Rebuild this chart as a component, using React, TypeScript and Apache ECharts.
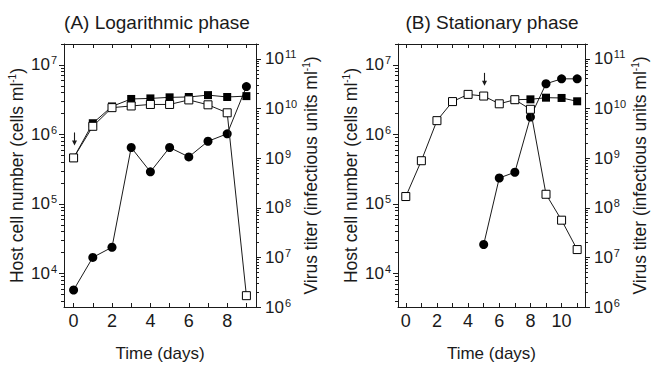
import React, { useEffect, useRef } from 'react';
import * as echarts from 'echarts';

const FONT = '"Liberation Sans", Arial, Helvetica, sans-serif';
const INK = '#1a1a1a';

// Panel A: Logarithmic phase
const daysA = ['0', '1', '2', '3', '4', '5', '6', '7', '8', '9'];
const hostOpenA = [4.6e5, 1.31e6, 2.43e6, 2.57e6, 2.7e6, 2.7e6, 3.14e6, 2.67e6, 2.05e6, 4.8e3];
const hostFilledA = [4.6e5, 1.45e6, 2.53e6, 3.24e6, 3.3e6, 3.42e6, 3.46e6, 3.68e6, 3.46e6, 3.56e6];
const virusA = [2.2e6, 1.0e7, 1.6e7, 1.64e9, 5.3e8, 1.64e9, 1.06e9, 2.19e9, 3.1e9, 2.77e10];
const arrowA = [0, 6.95e5];

// Panel B: Stationary phase
const daysB = ['0', '1', '2', '3', '4', '5', '6', '7', '8', '9', '10', '11'];
const hostOpenB = [1.28e5, 4.19e5, 1.58e6, 2.97e6, 3.77e6, 3.57e6, 2.76e6, 3.16e6, 2.3e6, 1.38e5, 5.85e4, 2.21e4];
const hostFilledB: (number | string)[] = ['-', '-', '-', '-', '-', '-', '-', 3.16e6, 3.2e6, 3.38e6, 3.35e6, 3.0e6];
const virusB: (number | string)[] = ['-', '-', '-', '-', '-', 1.82e7, 3.98e8, 5.2e8, 6.76e9, 3.16e10, 3.97e10, 3.97e10];
const arrowB = [5, 5.0e6];

// Axis ranges and log tick decades
const hostRange = [3.3e3, 2e7];
const virusRange = [1e6, 2e11];
const hostDecades = [1e3, 1e4, 1e5, 1e6, 1e7];
const virusDecades = [1e6, 1e7, 1e8, 1e9, 1e10, 1e11];
const minorSteps = [2, 3, 4, 5, 6, 7, 8, 9];

function inRange(v: number, range: number[]) {
  return v >= range[0] * 0.999 && v <= range[1] * 1.001;
}
function majorTicks(decades: number[], range: number[]) {
  return decades.filter((d) => inRange(d, range)).map((d) => Math.log10(d));
}
function minorTicks(decades: number[], range: number[]) {
  const out: number[] = [];
  decades.forEach((d) => minorSteps.forEach((k) => { if (inRange(d * k, range)) out.push(Math.log10(d * k)); }));
  return out;
}

const arrowRender = (params: any, api: any) => {
  const p = api.coord([api.value(0), api.value(1)]);
  const x = Math.round(p[0]) + 0.5;
  const y = p[1];
  return {
    type: 'group',
    children: [
      { type: 'line', shape: { x1: x, y1: y - 13, x2: x, y2: y - 3 }, style: { stroke: INK, lineWidth: 1.1 } },
      { type: 'polygon', shape: { points: [[x - 2.5, y - 5], [x + 2.5, y - 5], [x, y]] }, style: { fill: INK } },
    ],
  };
};

const supLabel = (v: number) => {
  const l = Math.log10(v);
  const e = Math.round(l);
  if (Math.abs(l - e) > 1e-6) return '';
  return `{b|10}{s|${e}}`;
};

const labelRich = {
  b: { fontSize: 17, fontFamily: FONT, color: INK, lineHeight: 20 },
  s: { fontSize: 11, fontFamily: FONT, color: INK, verticalAlign: 'top' as const, padding: [0, 0, 0, 1] },
};

const nameRich = {
  sup: { fontSize: 10, fontFamily: FONT, color: INK, verticalAlign: 'top' as const },
};

function xAxes(gridIndex: number, data: string[]) {
  return [
    {
      gridIndex,
      type: 'category',
      data,
      boundaryGap: true,
      position: 'bottom',
      name: 'Time (days)',
      nameLocation: 'middle',
      nameGap: 38,
      nameTextStyle: { fontSize: 17, fontFamily: FONT, color: INK },
      axisLine: { lineStyle: { color: INK, width: 1 } },
      axisTick: { show: true, alignWithLabel: true, interval: 0, inside: true, length: 4, lineStyle: { color: INK, width: 1 } },
      axisLabel: { interval: 1, fontSize: 18, fontFamily: FONT, color: INK, margin: 5 },
      splitLine: { show: false },
    },
    {
      gridIndex,
      type: 'category',
      data,
      boundaryGap: true,
      position: 'top',
      axisLine: { lineStyle: { color: INK, width: 1 } },
      axisTick: { show: true, alignWithLabel: true, interval: 0, inside: true, length: 4, lineStyle: { color: INK, width: 1 } },
      axisLabel: { show: false },
      splitLine: { show: false },
    },
  ];
}

// Tick-only axes in log10 space, placed on top of the log axes
function tickAxis(gridIndex: number, position: string, range: number[], values: number[], len: number) {
  return {
    gridIndex,
    type: 'value',
    position,
    min: Math.log10(range[0]),
    max: Math.log10(range[1]),
    axisLine: { show: false },
    axisLabel: { show: false },
    splitLine: { show: false },
    axisTick: { show: true, length: len, customValues: values, lineStyle: { color: INK, width: 1 } },
  };
}

function yAxes(gridIndex: number, leftGap: number, rightGap: number) {
  return [
    {
      gridIndex,
      type: 'log',
      position: 'left',
      min: hostRange[0],
      max: hostRange[1],
      name: 'Host cell number (cells ml{sup|-1})',
      nameLocation: 'middle',
      nameGap: leftGap,
      nameTextStyle: { fontSize: 17.5, fontFamily: FONT, color: INK, lineHeight: 20, rich: nameRich },
      axisLine: { show: true, lineStyle: { color: INK, width: 1 } },
      axisTick: { show: false },
      axisLabel: { formatter: supLabel, margin: 7, rich: labelRich },
      splitLine: { show: false },
    },
    {
      gridIndex,
      type: 'log',
      position: 'right',
      min: virusRange[0],
      max: virusRange[1],
      name: 'Virus titer (infectious units ml{sup|-1})',
      nameLocation: 'middle',
      nameGap: rightGap,
      nameRotate: 90,
      nameTextStyle: { fontSize: 17.5, fontFamily: FONT, color: INK, lineHeight: 20, rich: nameRich },
      axisLine: { show: true, lineStyle: { color: INK, width: 1 } },
      axisTick: { show: false },
      axisLabel: { formatter: supLabel, margin: 9, rich: labelRich },
      splitLine: { show: false },
    },
    tickAxis(gridIndex, 'left', hostRange, majorTicks(hostDecades, hostRange), 5),
    tickAxis(gridIndex, 'left', hostRange, minorTicks(hostDecades, hostRange), 3),
    tickAxis(gridIndex, 'right', virusRange, majorTicks(virusDecades, virusRange), 5),
    tickAxis(gridIndex, 'right', virusRange, minorTicks(virusDecades, virusRange), 3),
  ];
}

function panelSeries(
  xi: number,
  yHost: number,
  yVirus: number,
  open: (number | string)[],
  filled: (number | string)[],
  virus: (number | string)[],
  arrow: number[]
) {
  const line = { color: INK, width: 1 };
  return [
    {
      type: 'line',
      xAxisIndex: xi,
      yAxisIndex: yVirus,
      data: virus,
      symbol: 'circle',
      symbolSize: 9,
      showAllSymbol: true,
      lineStyle: line,
      itemStyle: { color: '#000', borderColor: '#000', borderWidth: 0 },
      z: 3,
    },
    {
      type: 'line',
      xAxisIndex: xi,
      yAxisIndex: yHost,
      data: filled,
      symbol: 'rect',
      symbolSize: 8,
      showAllSymbol: true,
      lineStyle: line,
      itemStyle: { color: '#000', borderColor: '#000', borderWidth: 0 },
      z: 4,
    },
    {
      type: 'line',
      xAxisIndex: xi,
      yAxisIndex: yHost,
      data: open,
      symbol: 'rect',
      symbolSize: 8,
      showAllSymbol: true,
      lineStyle: line,
      itemStyle: { color: '#fff', borderColor: '#000', borderWidth: 1 },
      z: 5,
    },
    {
      type: 'custom',
      xAxisIndex: xi,
      yAxisIndex: yHost,
      renderItem: arrowRender,
      data: [arrow],
      silent: true,
      clip: false,
      z: 6,
    },
  ];
}

export default function App() {
  const ref = useRef<HTMLDivElement>(null);
  useEffect(() => {
    const chart = echarts.init(ref.current!, null, { renderer: 'svg' });
    const option: any = {
      animation: false,
      backgroundColor: '#fff',
      textStyle: { fontFamily: FONT },
      grid: [
        { left: 64, top: 44, width: 192, height: 270 },
        { left: 398, top: 44, width: 191, height: 270 },
      ],
      graphic: [
        {
          type: 'text',
          x: 157,
          y: 22,
          style: { text: '(A) Logarithmic phase', font: `19px ${FONT}`, fill: INK, align: 'center', verticalAlign: 'middle' },
        },
        {
          type: 'text',
          x: 492,
          y: 22,
          style: { text: '(B) Stationary phase', font: `19px ${FONT}`, fill: INK, align: 'center', verticalAlign: 'middle' },
        },
      ],
      xAxis: [...xAxes(0, daysA), ...xAxes(1, daysB)],
      yAxis: [...yAxes(0, 33, 41), ...yAxes(1, 34, 45)],
      series: [
        ...panelSeries(0, 0, 1, hostOpenA, hostFilledA, virusA, arrowA),
        ...panelSeries(2, 6, 7, hostOpenB, hostFilledB, virusB, arrowB),
      ],
    };
    chart.setOption(option);
    return () => chart.dispose();
  }, []);
  return <div ref={ref} style={{ position: 'absolute', left: 0, top: 0, width: 651, height: 367 }} />;
}
